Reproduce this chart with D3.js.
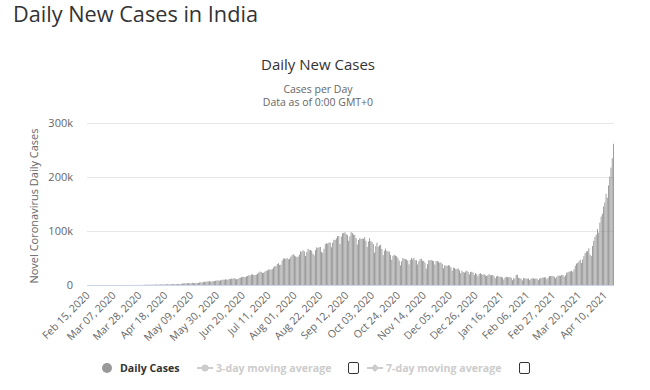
<!DOCTYPE html>
<html><head><meta charset="utf-8">
<script src="https://cdn.jsdelivr.net/npm/d3@7"></script>
<style>html,body{margin:0;padding:0;background:#fff;}svg{display:block;}</style>
</head><body>
<svg id="c" width="650" height="390"></svg>
<script>
const startDate = "2020-02-15";
const feb2020 = [0,0,0,0,0,0,0,0,0,0,0,0,0,0,0];
const mar2020 = [0,2,1,22,2,1,3,5,9,15,8,10,7,1,26,12,23,28,22,62,83,97,72,130,95,123,164,197,100,227,146];
const apr2020 = [601,545,467,573,489,693,354,773,540,796,918,909,796,1248,1031,1076,1007,1383,1239,1537,1297,1292,1667,1408,1835,1607,1561,1902,1705,1801];
const may2020 = [2396,2564,2952,3656,2971,3587,3364,3344,3113,4353,3607,3524,3763,3942,3787,4864,5050,4630,6147,5553,6088,6654,6767,6977,6535,6387,7466,7254,8138,8364,8789];
const jun2020 = [7723,8821,9638,9851,9889,10438,9983,9987,11156,10956,11929,11502,12881,11458,10667,10974,12881,13586,14516,15413,14821,14933,15968,16922,18552,17296,19906,19459,18522,18653];
const jul2020 = [19148,20903,22771,24850,24248,22252,22754,24879,26506,27114,28637,28701,28498,29429,32695,34956,34884,38902,40425,37148,37724,45720,49310,48916,48661,49931,47704,48513,52123,55078,57118];
const aug2020 = [54735,52972,52050,52509,56282,62538,61537,64399,62064,53601,60963,66999,64553,65002,63490,57981,55079,64531,69652,68898,69878,70488,61408,59696,67151,75760,77266,76472,78761,78512,69921];
const sep2020 = [78357,83883,83341,86432,90632,90802,75809,89706,95735,96551,97570,94372,92071,81911,90123,97894,96424,93337,92605,86961,75083,83347,86508,85362,86052,85362,88600,82170,70589,80472];
const oct2020 = [86821,81484,79476,75829,59893,72049,78524,70496,73272,74383,66732,55342,63509,67708,63371,62212,61871,55722,46790,54044,55839,54366,53370,50129,45148,36469,43893,49881,48648,48268,46963];
const nov2020 = [45230,38310,46253,50210,47638,50357,45674,45903,38073,44281,47905,48698,44879,44684,41100,30548,38617,45576,45882,46232,45209,44059,37975,44376,44489,43082,41322,41810,38772,31118];
const dec2020 = [36604,35668,35551,36652,36011,32981,26567,32080,31521,29398,30006,30254,27071,22065,26382,24010,22890,25152,26624,24337,19556,23950,24712,23068,18732,22272,20021,16432,20550,21822,20035];
const jan2021 = [19078,20035,18177,16504,18088,20346,18139,18222,18645,16311,12584,15968,16946,15590,15158,15144,13788,10064,13823,15244,14545,14256,14849,13203,9102,12689,11666,18855,18885,13083,13052];
const feb2021 = [11427,8635,12899,12408,12059,11713,12059,9110,11067,12923,12143,11397,12143,11649,9121,11610,12881,13193,13993,13993,14264,10584,13742,16738,16577,16752,16488,15510];
const mar2021 = [12286,14989,17407,17407,16838,18711,18599,15388,17921,22854,23285,24882,25320,26291,24492,28903,35871,39726,40953,43846,46951,40715,47262,53476,59118,62258,62714,68020,56211,53480,72330];
const apr2021 = [81466,89129,93249,103558,96982,115736,126789,131968,145384,152879,168912,161736,184372,200739,217353,234692,261500];

const dailyCases = [].concat(feb2020,mar2020,apr2020,may2020,jun2020,jul2020,aug2020,sep2020,oct2020,nov2020,dec2020,jan2021,feb2021,mar2021,apr2021);

const xTickLabels = ["Feb 15, 2020","Mar 07, 2020","Mar 28, 2020","Apr 18, 2020","May 09, 2020","May 30, 2020","Jun 20, 2020","Jul 11, 2020","Aug 01, 2020","Aug 22, 2020","Sep 12, 2020","Oct 03, 2020","Oct 24, 2020","Nov 14, 2020","Dec 05, 2020","Dec 26, 2020","Jan 16, 2021","Feb 06, 2021","Feb 27, 2021","Mar 20, 2021","Apr 10, 2021"];
const xTickStep = 21;
const yTicks = [0,100000,200000,300000];
const yTickLabels = ["0","100k","200k","300k"];
const legendItems = ["Daily Cases","3-day moving average","7-day moving average"];

const FONT = "'Open Sans','Segoe UI',sans-serif";
const svg = d3.select("#c");
const L = 87, R = 614, T = 123, B = 285;

const x = d3.scaleBand().domain(d3.range(dailyCases.length)).range([L, R]).paddingInner(0.3).paddingOuter(0.1);
const y = d3.scaleLinear().domain([0, 300000]).range([B, T]);

// Page title
svg.append("text").attr("x", 13).attr("y", 22).attr("font-family", FONT).attr("font-size", 21.7)
  .attr("fill", "#333").text("Daily New Cases in India");

// chart title / subtitles
svg.append("text").attr("x", 318).attr("y", 70).attr("text-anchor", "middle").attr("font-family", FONT)
  .attr("font-size", 15).attr("fill", "#333").text("Daily New Cases");
svg.append("text").attr("x", 318).attr("y", 93).attr("text-anchor", "middle").attr("font-family", FONT)
  .attr("font-size", 10.5).attr("fill", "#666").text("Cases per Day");
svg.append("text").attr("x", 318).attr("y", 106).attr("text-anchor", "middle").attr("font-family", FONT)
  .attr("font-size", 10.5).attr("fill", "#666").text("Data as of 0:00 GMT+0");

// gridlines
svg.append("g").selectAll("line").data(yTicks.slice(1)).join("line")
  .attr("x1", L).attr("x2", R).attr("y1", d => Math.round(y(d)) + 0.5).attr("y2", d => Math.round(y(d)) + 0.5)
  .attr("stroke", "#e6e6e6").attr("stroke-width", 1);

// y axis
const yAxis = d3.axisLeft(y).tickValues(yTicks).tickFormat((d, i) => yTickLabels[i]).tickSize(0).tickPadding(14);
const gy = svg.append("g").attr("transform", `translate(${L},0)`).call(yAxis);
gy.select(".domain").remove();
gy.selectAll("text").attr("font-family", FONT).attr("font-size", 11).attr("fill", "#666");

svg.append("text").attr("transform", `translate(38,${(T+B)/2 + 2}) rotate(-90)`).attr("text-anchor", "middle")
  .attr("font-family", FONT).attr("font-size", 11).attr("fill", "#666").text("Novel Coronavirus Daily Cases");

// bars
svg.append("g").selectAll("rect").data(dailyCases).join("rect")
  .attr("x", (d, i) => x(i)).attr("width", x.bandwidth())
  .attr("y", d => y(d)).attr("height", d => B - y(d))
  .attr("fill", "#8f8f8f");

// x axis line
svg.append("line").attr("x1", L).attr("x2", R).attr("y1", B + 0.5).attr("y2", B + 0.5)
  .attr("stroke", "#ccd6eb").attr("stroke-width", 1);

// x labels
const xl = svg.append("g");
xTickLabels.forEach((lab, k) => {
  const i = k * xTickStep;
  const cx = x(i) + x.bandwidth() / 2;
  xl.append("text").attr("transform", `translate(${cx + 3},${B + 11}) rotate(-45)`)
    .attr("text-anchor", "end").attr("font-family", FONT).attr("font-size", 10.5).attr("fill", "#666").text(lab);
});

// legend
const lg = svg.append("g").attr("font-family", FONT).attr("font-size", 10.6).attr("font-weight", "bold");
lg.append("circle").attr("cx", 107).attr("cy", 368).attr("r", 5).attr("fill", "#999");
lg.append("text").attr("x", 120).attr("y", 372).attr("fill", "#333").text(legendItems[0]);
lg.append("line").attr("x1", 197).attr("x2", 213).attr("y1", 368).attr("y2", 368).attr("stroke", "#ccc").attr("stroke-width", 2);
lg.append("circle").attr("cx", 205).attr("cy", 368).attr("r", 3.5).attr("fill", "#ccc");
lg.append("text").attr("x", 216).attr("y", 372).attr("fill", "#ccc").text(legendItems[1]);
lg.append("rect").attr("x", 348.5).attr("y", 362.5).attr("width", 10).attr("height", 11).attr("rx", 1.5)
  .attr("fill", "#fff").attr("stroke", "#333").attr("stroke-width", 1);
lg.append("line").attr("x1", 367).attr("x2", 383).attr("y1", 368).attr("y2", 368).attr("stroke", "#ccc").attr("stroke-width", 2);
lg.append("path").attr("d", "M375,364 L379,368 L375,372 L371,368 Z").attr("fill", "#ccc");
lg.append("text").attr("x", 386).attr("y", 372).attr("fill", "#ccc").text(legendItems[2]);
lg.append("rect").attr("x", 519.5).attr("y", 362.5).attr("width", 10).attr("height", 11).attr("rx", 1.5)
  .attr("fill", "#fff").attr("stroke", "#333").attr("stroke-width", 1);
</script>
</body></html>
